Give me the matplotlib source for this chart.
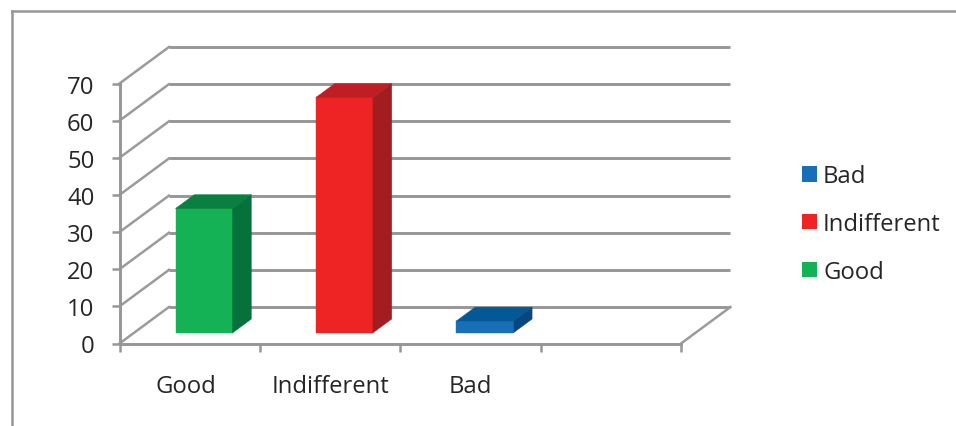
"""Survey responses drawn as an Excel-style 3D column chart."""

import matplotlib
matplotlib.use("Agg")
import matplotlib.pyplot as plt
from matplotlib.lines import Line2D
from matplotlib.patches import Patch
from matplotlib.transforms import ScaledTranslation

# ---------------------------------------------------------------------------
# Data
# ---------------------------------------------------------------------------
CATEGORIES = ["Good", "Indifferent", "Bad"]
VALUES = [33.5, 63.4, 3.2]
Y_TICKS = [0, 10, 20, 30, 40, 50, 60, 70]
LEGEND_ORDER = ["Bad", "Indifferent", "Good"]

# ---------------------------------------------------------------------------
# Styling
# ---------------------------------------------------------------------------
W, H = 956, 427
GREY = "#969696"
TEXT = "#262626"
FONT = "Open Sans"
FONTSIZE = 17.2

# front, top, side
SHADES = {
    "Good": ("#14B254", "#0A8040", "#06713A"),
    "Indifferent": ("#EE2324", "#BE1E24", "#A11D20"),
    "Bad": ("#196EB8", "#055896", "#07467F"),
}

# depth of the box, in data units (x slots and y values)
DEPTH_X = 49.5 / 140.4
DEPTH_Y = 36.5 / 3.714
BAR_WIDTH = 0.406
BAR_D0 = 0.29   # front of the columns, as a fraction of box depth
BAR_D1 = 0.67   # back of the columns


def proj(x, y, d):
    """Oblique projection: d=0 is the front of the box, d=1 the back wall."""
    return x + d * DEPTH_X, y + d * DEPTH_Y


def draw_column(ax, x_mid, value, shades):
    front, top, side = shades
    x0, x1 = x_mid - BAR_WIDTH / 2, x_mid + BAR_WIDTH / 2

    faces = [
        ([(x0, 0, BAR_D0), (x1, 0, BAR_D0), (x1, value, BAR_D0), (x0, value, BAR_D0)], front),
        ([(x0, value, BAR_D0), (x1, value, BAR_D0), (x1, value, BAR_D1), (x0, value, BAR_D1)], top),
        ([(x1, 0, BAR_D0), (x1, 0, BAR_D1), (x1, value, BAR_D1), (x1, value, BAR_D0)], side),
    ]
    for corners, colour in faces:
        pts = [proj(*c) for c in corners]
        ax.fill([p[0] for p in pts], [p[1] for p in pts], color=colour,
                lw=0.3, clip_on=False, zorder=5)


def main():
    fig = plt.figure(figsize=(W / 100, H / 100), dpi=100, facecolor="white")
    ax = fig.add_axes([119.5 / W, 1 - 344.5 / H, (681 - 119.5) / W, 260 / H])
    ax.set_xlim(0, 4)
    ax.set_ylim(0, 70)
    ax.set_autoscale_on(False)

    # chart-area border, only the top and left edges show
    fig.add_artist(Line2D([12 / W, 12 / W], [0, 1 - 11.5 / H], color=GREY, lw=1.8))
    fig.add_artist(Line2D([12 / W, 1], [1 - 11.5 / H, 1 - 11.5 / H], color=GREY, lw=1.8))

    # box: gridlines along the back wall and up the left wall
    for v in Y_TICKS:
        x_a, y_a = proj(0, v, 0)
        x_b, y_b = proj(0, v, 1)
        x_c, y_c = proj(4, v, 1)
        ax.plot([x_a, x_b], [y_a, y_b], color="#9B9B9B", lw=1.8, clip_on=False, zorder=2)
        ax.plot([x_b, x_c], [y_b, y_c], color=GREY, lw=2.1, clip_on=False, zorder=2,
                solid_capstyle="butt")

    # floor edge on the right
    x_a, y_a = proj(4, 0, 0)
    x_b, y_b = proj(4, 0, 1)
    ax.plot([x_a, x_b], [y_a, y_b], color="#9B9B9B", lw=1.8, clip_on=False, zorder=2)

    for i, name in enumerate(CATEGORIES):
        draw_column(ax, i + 0.5, VALUES[i], SHADES[name])

    for side in ("top", "right"):
        ax.spines[side].set_visible(False)
    for side in ("left", "bottom"):
        ax.spines[side].set_color(GREY)
        ax.spines[side].set_linewidth(2.1)
        ax.spines[side].set_zorder(3)
    ax.patch.set_visible(False)

    ax.set_yticks(Y_TICKS)
    ax.set_yticklabels([str(v) for v in Y_TICKS], fontsize=FONTSIZE, family=FONT, color=TEXT)
    ax.tick_params(axis="y", length=6, width=1.8, color=GREY, pad=12)

    # ticks sit between the slots, labels go in the middle of each
    ax.set_xticks([0, 1, 2, 3, 4])
    ax.set_xticklabels([])
    ax.tick_params(axis="x", which="major", length=6, width=1.8, color=GREY)
    ax.set_xticks([0.5, 1.5, 2.5], minor=True)
    ax.set_xticklabels(CATEGORIES, minor=True, fontsize=FONTSIZE, family=FONT, color=TEXT)
    ax.tick_params(axis="x", which="minor", length=0, pad=22)

    # first label sits a little left of its slot centre
    first = ax.get_xticklabels(minor=True)[0]
    first.set_transform(first.get_transform() + ScaledTranslation(-3.5 / 100, 0, fig.dpi_scale_trans))

    handles = [Patch(facecolor=SHADES[n][0], edgecolor="none", label=n) for n in LEGEND_ORDER]
    fig.legend(handles=handles, loc="center left",
               bbox_to_anchor=(802 / W, 1 - 225 / H), frameon=False,
               prop={"family": FONT, "size": FONTSIZE}, labelcolor=TEXT,
               borderpad=0, borderaxespad=0, handlelength=0.63, handleheight=0.63,
               handletextpad=0.25, labelspacing=1.0)

    fig.savefig("out.png", dpi=100)


if __name__ == "__main__":
    main()
